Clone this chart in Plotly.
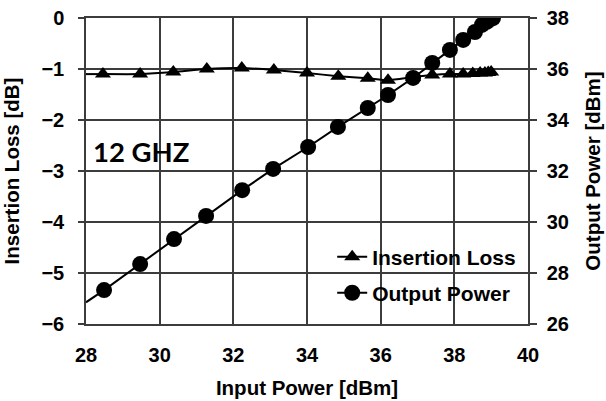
import plotly.graph_objects as go

# Data
il_x = [28.46, 29.47, 30.37, 31.28, 32.23, 33.10, 34.00, 34.85, 35.65, 36.20,
        36.88, 37.40, 37.88, 38.24, 38.50, 38.70, 38.83, 38.92, 39.00]
il_y = [-1.10, -1.10, -1.06, -1.00, -0.98, -1.02, -1.08, -1.14, -1.18, -1.22,
        -1.16, -1.12, -1.10, -1.10, -1.09, -1.08, -1.08, -1.07, -1.06]
il_start_x, il_start_y = 28.0, -1.10

op_x = [28.49, 29.47, 30.39, 31.26, 32.24, 33.08, 34.03, 34.84, 35.65, 36.20,
        36.88, 37.40, 37.88, 38.24, 38.56, 38.75, 38.88, 38.97, 39.05]
op_y = [27.33, 28.35, 29.33, 30.24, 31.25, 32.08, 32.94, 33.73, 34.47, 34.98,
        35.65, 36.24, 36.75, 37.14, 37.45, 37.73, 37.85, 37.95, 38.00]
op_start_x, op_start_y = 28.0, 26.85

x_ticks = [28, 30, 32, 34, 36, 38, 40]
y_ticks = [0, -1, -2, -3, -4, -5, -6]
y2_ticks = [26, 28, 30, 32, 34, 36, 38]

FONT = "Liberation Sans, Arial, sans-serif"
black = "black"
grid = "#3c3c3c"

fig = go.Figure()

# line extensions to the left axis edge
fig.add_trace(go.Scatter(x=[il_start_x, il_x[0]], y=[il_start_y, il_y[0]], mode="lines",
                         line=dict(color=black, width=2), showlegend=False, hoverinfo="skip"))
fig.add_trace(go.Scatter(x=[op_start_x, op_x[0]], y=[op_start_y, op_y[0]], mode="lines",
                         line=dict(color=black, width=2), showlegend=False, hoverinfo="skip",
                         yaxis="y2"))

fig.add_trace(go.Scatter(x=il_x, y=il_y, mode="lines+markers", name="Insertion Loss",
                         line=dict(color=black, width=2, shape="spline", smoothing=0.6),
                         marker=dict(symbol="triangle-up", size=14, color=black),
                         legend="legend"))
fig.add_trace(go.Scatter(x=op_x, y=op_y, mode="lines+markers", name="Output Power",
                         line=dict(color=black, width=2),
                         marker=dict(symbol="circle", size=16, color=black),
                         yaxis="y2", legend="legend2"))

tick_font = dict(family=FONT, size=20, color=black, weight="bold")
title_font = dict(family=FONT, size=20.5, color=black, weight="bold")
leg_font = dict(family=FONT, size=21, color=black, weight="bold")

fig.update_layout(
    width=606, height=401,
    margin=dict(l=86, r=78, t=18, b=77),
    paper_bgcolor="white", plot_bgcolor="white",
    font=dict(family=FONT, size=20, color=black),
    xaxis=dict(range=[28, 40], tickvals=x_ticks, ticktext=[str(v) for v in x_ticks],
               showgrid=True, gridcolor=grid, gridwidth=1.5, zeroline=False,
               showline=True, linecolor=grid, linewidth=1.5, mirror=True,
               ticks="", tickfont=tick_font, ticklabelstandoff=12, automargin=False,
               title=dict(text="Input Power [dBm]", font=title_font, standoff=16)),
    yaxis=dict(range=[-6, 0], tickvals=y_ticks,
               ticktext=[('\u2212' + str(-v)) if v < 0 else str(v) for v in y_ticks],
               showgrid=True, gridcolor=grid, gridwidth=1.5, zeroline=False,
               showline=True, linecolor=grid, linewidth=1.5,
               ticks="outside", ticklen=6, tickcolor=grid, tickwidth=1.5, tickfont=tick_font,
               ticklabelstandoff=10, automargin=False,
               title=dict(text="Insertion Loss [dB]", font=title_font, standoff=18)),
    yaxis2=dict(range=[26, 38], tickvals=y2_ticks, ticktext=[str(v) for v in y2_ticks],
                overlaying="y", side="right", showgrid=False, zeroline=False,
                showline=True, linecolor=grid, linewidth=1.5,
                ticks="outside", ticklen=7, tickcolor=grid, tickwidth=1.5, tickfont=tick_font,
                ticklabelstandoff=6, automargin=False,
                title=dict(text="Output Power [dBm]", font=title_font, standoff=17)),
    legend=dict(x=0.557, y=0.219, xanchor="left", yanchor="middle",
                bgcolor="rgba(0,0,0,0)", font=leg_font, itemwidth=30),
    legend2=dict(x=0.557, y=0.101, xanchor="left", yanchor="middle",
                 bgcolor="rgba(0,0,0,0)", font=leg_font, itemwidth=30),
    showlegend=True,
)

fig.add_annotation(x=28.13, y=-2.62, xref="x", yref="y", text="<b>12 GHZ</b>",
                   showarrow=False, xanchor="left", yanchor="middle",
                   font=dict(family="Lato, Open Sans, sans-serif", size=27.5, color=black))

fig.write_html("out.html")
